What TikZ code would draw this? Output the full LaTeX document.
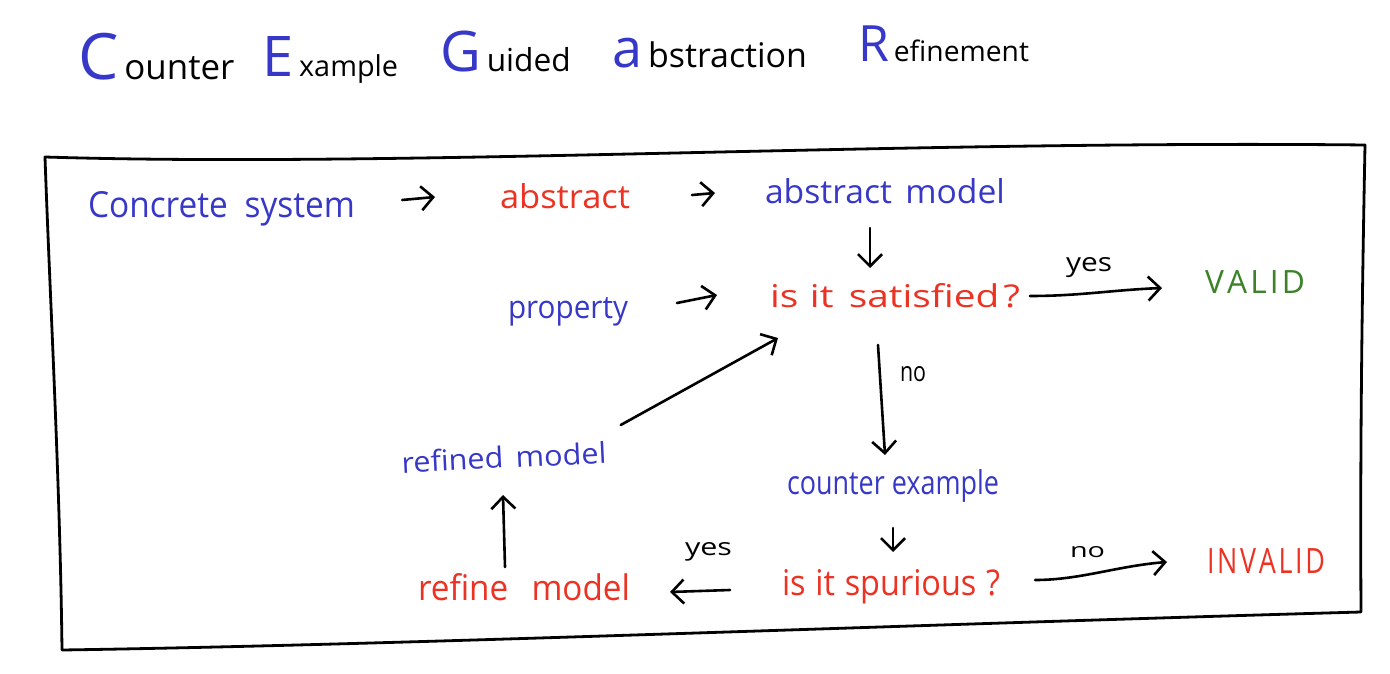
\documentclass[tikz,border=0pt]{standalone}
\usepackage{fontspec}
\setmainfont{Open Sans}
\usetikzlibrary{arrows.meta}
\definecolor{hblue}{RGB}{55,55,200}
\definecolor{hred}{RGB}{235,50,35}
\definecolor{hgreen}{RGB}{60,130,40}
\newcommand{\fitw}[2]{\resizebox{#1pt}{!}{#2}}
\newcommand{\hw}[3]{\resizebox{#1pt}{#2pt}{#3}}
\newcommand{\titlecap}[2]{{\color{hblue}\fontsize{#1}{#1}\selectfont #2}}
\begin{document}
\begin{tikzpicture}[x=1pt,y=-1pt,
  txt/.style={anchor=base west, inner sep=0pt, outer sep=0pt},
  bluetxt/.style={txt, text=hblue},
  redtxt/.style={txt, text=hred},
  greentxt/.style={txt, text=hgreen},
  lbl/.style={txt, text=black},
  arr/.style={line width=2.6pt, line cap=round,
    -{Straight Barb[length=12pt,width=24pt,line width=2.6pt]}},
  frame/.style={line width=2.8pt, line cap=round, line join=round}]
\fill[white] (0,0) rectangle (1390,674);
\useasboundingbox (0,0) rectangle (1390,674);

% title
\node[lbl] (t1) at (78,80) {\titlecap{64}{C}\hspace{6pt}\fitw{110}{ounter}};
\node[lbl] (t2) at (262,77) {\titlecap{56}{E}\hspace{6pt}\fitw{99}{xample}};
\node[lbl] (t3) at (440,72) {\titlecap{56}{G}\hspace{6pt}\fitw{84}{uided}};
\node[lbl] (t4) at (612,68) {\titlecap{54}{a}\hspace{6pt}\fitw{159}{bstraction}};
\node[lbl] (t5) at (858,62) {\titlecap{50}{R}\hspace{5pt}\fitw{135}{efinement}};

% frame
\draw[frame] (45,157) .. controls (400,168) and (900,140) .. (1365,145)
  .. controls (1362,300) and (1360,450) .. (1361,612)
  .. controls (900,625) and (400,645) .. (62,650)
  .. controls (60,480) and (50,300) .. cycle;

% nodes
\node[bluetxt] (cs) at (88,217) {\hw{267}{26}{Concrete\hspace{0.5em}system}};
\node[redtxt] (abs) at (500,208) {\hw{130}{25}{abstract}};
\node[bluetxt] (am) at (765,203) {\hw{240}{25}{abstract\hspace{0.4em}model}};
\node[bluetxt] (prop) at (508,318) {\hw{120}{21}{property}};
\node[redtxt] (sat) at (770,307) {\hw{250}{24}{is\hspace{0.3em}it\hspace{0.4em}satisfied\hspace{0.1em}?}};
\node[greentxt] (valid) at (1205,293) {\hw{100}{23}{V\hspace{0.1em}A\hspace{0.1em}L\hspace{0.1em}I\hspace{0.1em}D}};
\node[bluetxt] (ce) at (787,494) {\hw{212}{25}{counter example}};
\node[redtxt] (sp) at (782,595) {\hw{218}{26}{is\hspace{0.3em}it\hspace{0.3em}spurious\hspace{0.3em}?}};
\node[redtxt] (rm) at (418,600) {\hw{212}{27}{refine\hspace{0.7em}model}};
\node[bluetxt, rotate=2.8] (rfd) at (402,473) {\hw{205}{22}{refined\hspace{0.4em}model}};
\node[redtxt] (inv) at (1207,573) {\hw{118}{25}{I\hspace{0.1em}N\hspace{0.1em}V\hspace{0.1em}A\hspace{0.1em}L\hspace{0.1em}I\hspace{0.1em}D}};

% labels
\node[lbl] (yes1) at (1066,271) {\hw{46}{14}{yes}};
\node[lbl] (no1) at (900,381) {\hw{26}{15}{no}};
\node[lbl] (yes2) at (685,555) {\hw{47}{13}{yes}};
\node[lbl] (no2) at (1070,557) {\hw{35}{11}{no}};

% connectors
\draw[arr] ([shift={(47,-17)}]cs.base east) -- ([shift={(-65,-11)}]abs.base west);
\draw[arr] ([shift={(62,-13)}]abs.base east) -- ([shift={(-50,-10)}]am.base west);
\draw[arr] ([shift={(105,25)}]am.base west) -- ([shift={(100,-39)}]sat.base west);
\draw[arr] ([shift={(49,-15)}]prop.base east) -- ([shift={(-53,-12)}]sat.base west);
\draw[arr] ([shift={(10,-11)}]sat.base east) .. controls +(50,0) and +(-50,2) .. ([shift={(-43,-5)}]valid.base west);
\draw[arr] ([shift={(108,38)}]sat.base west) -- ([shift={(98,-39)}]ce.base west);
\draw[arr] ([shift={(106,34)}]ce.base west) -- ([shift={(111,-43)}]sp.base west);
\draw[arr] ([shift={(-52,-5)}]sp.base west) -- ([shift={(40,-8)}]rm.base east);
\draw[arr] ([shift={(87,-33)}]rm.base west) -- ([shift={(101,22)}]rfd.base west);
\draw[arr] ([shift={(14,-38)}]rfd.base east) -- ([shift={(8,31)}]sat.base west);
\draw[arr] ([shift={(35,-15)}]sp.base east) .. controls +(45,0) and +(-50,4) .. ([shift={(-40,-11)}]inv.base west);
\end{tikzpicture}
\end{document}
